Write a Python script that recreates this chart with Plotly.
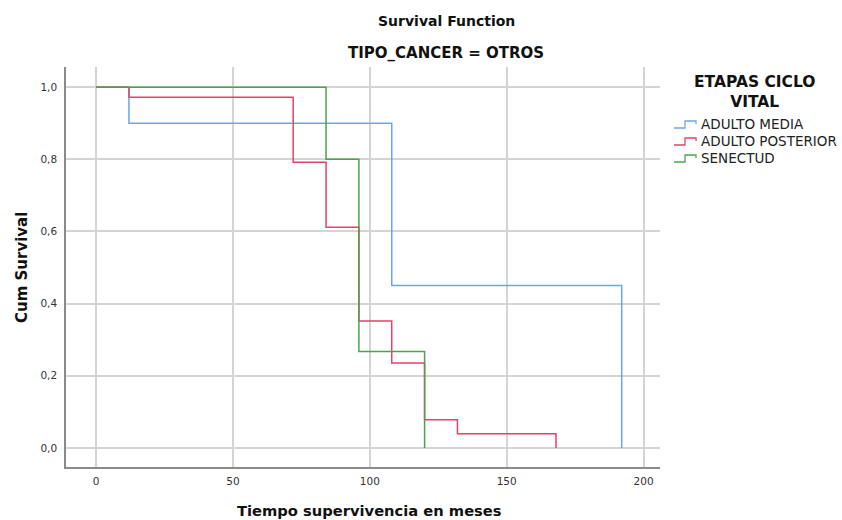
import plotly.graph_objects as go

# Kaplan-Meier step data (time in months, cumulative survival)
media_t = [0, 12, 108, 192]
media_s = [1.0, 0.90, 0.45, 0.0]

posterior_t = [0, 12, 72, 84, 96, 108, 120, 132, 168]
posterior_s = [1.0, 0.972, 0.792, 0.612, 0.352, 0.235, 0.078, 0.039, 0.0]

senectud_t = [0, 84, 96, 120]
senectud_s = [1.0, 0.80, 0.267, 0.0]

series_names = ["ADULTO MEDIA", "ADULTO POSTERIOR", "SENECTUD"]
series_colors = ["#6aa6ee", "#e4426b", "#4ea24e"]

x_ticks = [0, 50, 100, 150, 200]
y_ticks = [0.0, 0.2, 0.4, 0.6, 0.8, 1.0]
y_tick_text = ["0,0", "0,2", "0,4", "0,6", "0,8", "1,0"]

FONT = "DejaVu Sans"
W, H = 842, 520
ML, MR, MT, MB = 66, 182, 67, 53

fig = go.Figure()
for t, s, name, color in zip(
    [media_t, posterior_t, senectud_t],
    [media_s, posterior_s, senectud_s],
    series_names,
    series_colors,
):
    fig.add_trace(go.Scatter(
        x=t, y=s, mode="lines", name=name,
        line=dict(color=color, width=1.5, shape="hv"),
        showlegend=False, hoverinfo="x+y+name",
    ))

fig.update_layout(
    width=W, height=H,
    margin=dict(l=ML, r=MR, t=MT, b=MB, autoexpand=False),
    paper_bgcolor="white", plot_bgcolor="white",
    font=dict(family=FONT, color="#333333"),
    xaxis=dict(
        range=[-11, 206], tickvals=x_ticks, ticks="", automargin=False,
        showgrid=True, gridcolor="#d4d4d4", gridwidth=1.5,
        showline=True, linecolor="#8a8a8a", linewidth=1.5,
        zeroline=False, tickfont=dict(size=10.5, color="#333333"),
        ticklabelstandoff=4,
    ),
    yaxis=dict(
        range=[-0.053, 1.056], tickvals=y_ticks, ticktext=y_tick_text, ticks="",
        automargin=False,
        showgrid=True, gridcolor="#d4d4d4", gridwidth=1.5,
        showline=True, linecolor="#8a8a8a", linewidth=1.5,
        zeroline=False, tickfont=dict(size=10.5, color="#333333"),
        ticklabelstandoff=5,
    ),
)

pw = W - ML - MR
ph = H - MT - MB


def px_x(px):
    return (px - ML) / pw


def px_y(py):
    return 1 - (py - MT) / ph


def label(px, py, text, size, color="#111111", xanchor="center", align="center",
          angle=0):
    fig.add_annotation(x=px_x(px), y=px_y(py), xref="paper", yref="paper",
                       text=text, showarrow=False, xanchor=xanchor,
                       yanchor="middle", align=align, textangle=angle,
                       font=dict(size=size, color=color, family=FONT))


# Chart titles
label(446, 21, "<b>Survival Function</b>", 14)
label(446, 53, "<b>TIPO_CANCER = OTROS</b>", 15)

# Axis titles
label(369, 510, "<b>Tiempo supervivencia en meses</b>", 14.7)
label(22, 268, "<b>Cum Survival</b>", 15, angle=-90)

# Legend title
label(754, 92, "<b>ETAPAS CICLO<br>VITAL</b>", 15.5)

# Legend entries with step-shaped keys
for i, (name, color) in enumerate(zip(series_names, series_colors)):
    cy = 124 + i * 17
    x0, x1, x2 = 674, 685, 696
    y_lo, y_hi = cy + 4, cy - 3
    path = (f"M {px_x(x0)} {px_y(y_lo)} L {px_x(x1)} {px_y(y_lo)} "
            f"L {px_x(x1)} {px_y(y_hi)} L {px_x(x2)} {px_y(y_hi)} "
            f"L {px_x(x2)} {px_y(y_hi + 3)}")
    fig.add_shape(type="path", path=path, xref="paper", yref="paper",
                  line=dict(color=color, width=1.3))
    label(699, cy, name, 13.5, color="#222222", xanchor="left", align="left")

fig.write_html("out.html")
